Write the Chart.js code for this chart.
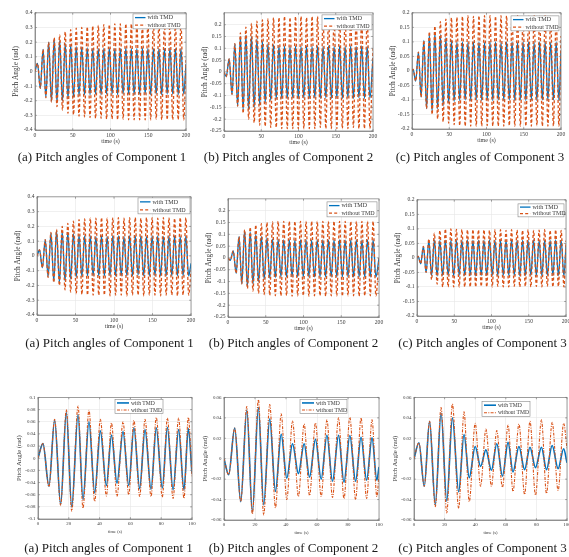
<!DOCTYPE html>
<html>
<head>
<meta charset="utf-8">
<script src="https://cdn.jsdelivr.net/npm/chart.js@4.4.1/dist/chart.umd.min.js"></script>
<style>
html,body{margin:0;padding:0;background:#fff;}
body{position:relative;width:569px;height:557px;overflow:hidden;}
canvas{position:absolute;}
.cap{position:absolute;font-family:"Liberation Serif","Times New Roman",serif;font-size:13px;line-height:16px;color:#1a1a1a;white-space:nowrap;transform:translateX(-50%);}
</style>
</head>
<body>
<script>
// ---------- tick labels ----------
const xTicks200 = [0, 50, 100, 150, 200];
const xTicks100 = [0, 20, 40, 60, 80, 100];
const yTicksA = [-0.4, -0.3, -0.2, -0.1, 0, 0.1, 0.2, 0.3, 0.4];
const yTicksB = [-0.25, -0.2, -0.15, -0.1, -0.05, 0, 0.05, 0.1, 0.15, 0.2];
const yTicksC = [-0.2, -0.15, -0.1, -0.05, 0, 0.05, 0.1, 0.15, 0.2];
const yTicks3a = [-0.1, -0.08, -0.06, -0.04, -0.02, 0, 0.02, 0.04, 0.06, 0.08, 0.1];
const yTicks3bc = [-0.06, -0.04, -0.02, 0, 0.02, 0.04, 0.06];

const seriesNames = ['with TMD', 'without TMD'];
const captions = ['(a) Pitch angles of Component 1', '(b) Pitch angles of Component 2', '(c) Pitch angles of Component 3'];

// ---------- extremum times (s) ----------
const tC1 = [0, 3.3, 7.0, 10.7, 14.4, 18.1, 21.8, 25.4, 29.1, 32.7,
  36.4, 40.0, 43.7, 47.3, 51.0, 54.6, 58.3, 61.9, 65.6, 69.2,
  72.9, 76.5, 80.2, 83.8, 87.5, 91.1, 94.8, 98.4, 102.1, 105.7,
  109.4, 113.0, 116.7, 120.3, 124.0, 127.6, 131.3, 134.9, 138.6, 142.2,
  145.9, 149.5, 153.2, 156.8, 160.5, 164.1, 167.8, 171.4, 175.1, 178.7,
  182.4, 186.0, 189.7, 193.3, 197.0, 200];
const tC2 = [0, 3.0, 6.9, 10.8, 14.6, 18.3, 22.0, 25.7, 29.4, 33.1,
  36.8, 40.5, 44.2, 47.9, 51.6, 55.3, 59.0, 62.7, 66.4, 70.1,
  73.8, 77.5, 81.2, 84.9, 88.6, 92.3, 96.0, 99.7, 103.4, 107.1,
  110.8, 114.5, 118.2, 121.9, 125.6, 129.3, 133.0, 136.7, 140.4, 144.1,
  147.8, 151.5, 155.2, 158.9, 162.6, 166.3, 170.0, 173.7, 177.4, 181.1,
  184.8, 188.5, 192.2, 195.9, 200];
const tC3 = [0, 1.5, 5.0, 8.6, 12.2, 15.9, 19.6, 23.3, 27.0, 30.7,
  34.4, 38.1, 41.8, 45.5, 49.2, 52.9, 56.6, 60.3, 64.0, 67.7,
  71.4, 75.1, 78.8, 82.5, 86.2, 89.9, 93.6, 97.3, 101.0, 104.7,
  108.4, 112.1, 115.8, 119.5, 123.2, 126.9, 130.6, 134.3, 138.0, 141.7,
  145.4, 149.1, 152.8, 156.5, 160.2, 163.9, 167.6, 171.3, 175.0, 178.7,
  182.4, 186.1, 189.8, 193.5, 197.2, 200];
const t3a = [0, 3.2, 7.1, 10.8, 14.7, 18.4, 21.9, 26.0, 29.2, 33.1,
  36.8, 40.5, 44.4, 47.7, 51.3, 55.2, 58.9, 62.3, 66.0, 69.5,
  73.4, 76.8, 80.7, 84.0, 87.7, 91.3, 94.8, 97.6, 100];
const t3b = [0, 3.0, 6.9, 10.8, 14.7, 18.3, 22.2, 25.6, 29.5, 33.2,
  36.9, 40.5, 44.2, 48.0, 51.7, 55.2, 59.0, 62.7, 66.4, 70.0,
  73.9, 77.4, 81.2, 84.9, 88.4, 92.0, 95.5, 98.6, 100];
const t3c = [0, 3.2, 6.7, 10.2, 13.9, 17.7, 21.4, 25.1, 29.2, 32.7,
  36.1, 40.0, 43.5, 47.0, 50.6, 54.1, 57.8, 61.5, 64.7, 68.6,
  72.3, 75.8, 79.4, 83.3, 86.6, 90.3, 94.2, 97.8, 100];

// ---------- pitch angle values (rad) at those times ----------
// Row 1
const w1a = [0, 0.055, -0.115, 0.15, -0.175, 0.2, -0.205, 0.22, -0.21, 0.21,
  -0.2, 0.19, -0.185, 0.18, -0.175, 0.17, -0.165, 0.165, -0.16, 0.16,
  -0.16, 0.155, -0.155, 0.155, -0.16, 0.155, -0.155, 0.16, -0.155, 0.155,
  -0.16, 0.155, -0.155, 0.16, -0.155, 0.155, -0.16, 0.155, -0.155, 0.16,
  -0.155, 0.155, -0.16, 0.155, -0.155, 0.155, -0.16, 0.155, -0.155, 0.16,
  -0.155, 0.155, -0.16, 0.155, -0.155, 0.05];
const wo1a = [0, 0.055, -0.115, 0.15, -0.18, 0.2, -0.21, 0.23, -0.24, 0.25,
  -0.265, 0.27, -0.285, 0.285, -0.295, 0.295, -0.305, 0.3, -0.31, 0.305,
  -0.315, 0.31, -0.32, 0.315, -0.32, 0.32, -0.325, 0.32, -0.325, 0.325,
  -0.33, 0.325, -0.325, 0.325, -0.33, 0.325, -0.33, 0.33, -0.33, 0.325,
  -0.33, 0.33, -0.33, 0.33, -0.325, 0.33, -0.33, 0.33, -0.33, 0.33,
  -0.33, 0.325, -0.33, 0.33, -0.33, 0.08];
const w1b = [0, -0.02, 0.055, -0.095, 0.12, -0.145, 0.15, -0.16, 0.155, -0.16,
  0.15, -0.15, 0.14, -0.14, 0.13, -0.13, 0.12, -0.12, 0.115, -0.115,
  0.11, -0.112, 0.11, -0.112, 0.108, -0.11, 0.11, -0.112, 0.108, -0.11,
  0.11, -0.112, 0.108, -0.11, 0.11, -0.112, 0.108, -0.11, 0.11, -0.112,
  0.108, -0.11, 0.11, -0.112, 0.108, -0.11, 0.11, -0.112, 0.108, -0.11,
  0.11, -0.112, 0.108, -0.11, 0.06];
const wo1b = [0, -0.02, 0.055, -0.095, 0.12, -0.145, 0.165, -0.175, 0.19, -0.2,
  0.205, -0.215, 0.215, -0.225, 0.22, -0.23, 0.225, -0.235, 0.23, -0.235,
  0.23, -0.24, 0.235, -0.24, 0.23, -0.24, 0.235, -0.24, 0.235, -0.24,
  0.23, -0.24, 0.235, -0.24, 0.235, -0.235, 0.23, -0.24, 0.235, -0.24,
  0.235, -0.24, 0.23, -0.24, 0.235, -0.24, 0.235, -0.235, 0.23, -0.24,
  0.235, -0.24, 0.235, -0.24, 0.1];
const w1c = [0, 0.005, -0.035, 0.065, -0.09, 0.105, -0.13, 0.125, -0.14, 0.13,
  -0.13, 0.125, -0.12, 0.115, -0.11, 0.105, -0.105, 0.1, -0.102, 0.1,
  -0.1, 0.098, -0.102, 0.1, -0.1, 0.1, -0.102, 0.098, -0.1, 0.1,
  -0.102, 0.1, -0.1, 0.098, -0.102, 0.1, -0.1, 0.1, -0.102, 0.098,
  -0.1, 0.1, -0.102, 0.1, -0.1, 0.098, -0.102, 0.1, -0.1, 0.1,
  -0.102, 0.098, -0.1, 0.1, -0.102, 0.07];
const wo1c = [0, 0.005, -0.035, 0.065, -0.09, 0.105, -0.13, 0.135, -0.15, 0.155,
  -0.165, 0.17, -0.175, 0.178, -0.18, 0.183, -0.185, 0.185, -0.188, 0.188,
  -0.19, 0.19, -0.19, 0.188, -0.19, 0.19, -0.19, 0.19, -0.188, 0.19,
  -0.19, 0.188, -0.19, 0.19, -0.19, 0.19, -0.188, 0.19, -0.19, 0.19,
  -0.19, 0.188, -0.19, 0.19, -0.19, 0.19, -0.188, 0.19, -0.19, 0.19,
  -0.19, 0.188, -0.19, 0.19, -0.19, 0.12];
// Row 2
const w2a = [0, 0.04, -0.08, 0.11, -0.14, 0.155, -0.17, 0.17, -0.18, 0.165,
  -0.17, 0.16, -0.155, 0.15, -0.145, 0.14, -0.14, 0.135, -0.135, 0.135,
  -0.135, 0.13, -0.135, 0.135, -0.135, 0.13, -0.135, 0.135, -0.135, 0.135,
  -0.135, 0.13, -0.135, 0.135, -0.135, 0.135, -0.13, 0.135, -0.135, 0.13,
  -0.135, 0.135, -0.135, 0.135, -0.135, 0.13, -0.135, 0.135, -0.135, 0.135,
  -0.135, 0.13, -0.135, 0.135, -0.135, -0.05];
const wo2a = [0, 0.04, -0.08, 0.11, -0.145, 0.16, -0.18, 0.18, -0.2, 0.2,
  -0.23, 0.22, -0.245, 0.235, -0.255, 0.245, -0.26, 0.25, -0.265, 0.255,
  -0.265, 0.255, -0.265, 0.26, -0.265, 0.255, -0.27, 0.26, -0.265, 0.26,
  -0.265, 0.255, -0.27, 0.26, -0.265, 0.26, -0.265, 0.255, -0.27, 0.26,
  -0.265, 0.26, -0.265, 0.255, -0.27, 0.26, -0.265, 0.26, -0.265, 0.255,
  -0.27, 0.26, -0.265, 0.26, -0.265, -0.1];
const w2b = [0, -0.01, 0.03, -0.065, 0.09, -0.11, 0.115, -0.12, 0.11, -0.11,
  0.1, -0.1, 0.09, -0.09, 0.085, -0.085, 0.08, -0.082, 0.078, -0.08,
  0.076, -0.08, 0.076, -0.08, 0.075, -0.08, 0.076, -0.08, 0.076, -0.08,
  0.075, -0.08, 0.076, -0.08, 0.076, -0.08, 0.075, -0.08, 0.076, -0.08,
  0.076, -0.08, 0.075, -0.08, 0.076, -0.08, 0.076, -0.08, 0.075, -0.08,
  0.076, -0.08, 0.076, -0.08, 0.0];
const wo2b = [0, -0.01, 0.03, -0.065, 0.09, -0.11, 0.12, -0.13, 0.13, -0.14,
  0.14, -0.15, 0.145, -0.155, 0.15, -0.158, 0.152, -0.16, 0.155, -0.16,
  0.155, -0.16, 0.155, -0.162, 0.155, -0.16, 0.155, -0.16, 0.155, -0.162,
  0.155, -0.16, 0.155, -0.16, 0.155, -0.162, 0.155, -0.16, 0.155, -0.16,
  0.155, -0.162, 0.155, -0.16, 0.155, -0.16, 0.155, -0.162, 0.155, -0.16,
  0.155, -0.16, 0.155, -0.16, 0.0];
const w2c = [0, 0.005, -0.02, 0.04, -0.05, 0.06, -0.06, 0.062, -0.062, 0.06,
  -0.06, 0.06, -0.06, 0.06, -0.062, 0.06, -0.06, 0.06, -0.06, 0.062,
  -0.06, 0.06, -0.062, 0.06, -0.06, 0.06, -0.06, 0.062, -0.06, 0.06,
  -0.062, 0.06, -0.06, 0.06, -0.06, 0.062, -0.06, 0.06, -0.062, 0.06,
  -0.06, 0.06, -0.06, 0.062, -0.06, 0.06, -0.062, 0.06, -0.06, 0.06,
  -0.06, 0.062, -0.06, 0.06, -0.062, 0.04];
const wo2c = [0, 0.005, -0.02, 0.04, -0.05, 0.065, -0.075, 0.085, -0.09, 0.095,
  -0.1, 0.1, -0.1, 0.1, -0.1, 0.098, -0.1, 0.098, -0.1, 0.097,
  -0.1, 0.098, -0.1, 0.097, -0.098, 0.097, -0.1, 0.095, -0.1, 0.097,
  -0.098, 0.097, -0.1, 0.095, -0.1, 0.097, -0.098, 0.096, -0.1, 0.095,
  -0.098, 0.097, -0.1, 0.095, -0.098, 0.096, -0.1, 0.097, -0.098, 0.095,
  -0.1, 0.097, -0.098, 0.095, -0.1, 0.06];
// Row 3
const w3a = [0, 0.024, -0.046, 0.063, -0.076, 0.075, -0.08, 0.072, -0.068, 0.06,
  -0.057, 0.045, -0.045, 0.038, -0.041, 0.044, -0.045, 0.05, -0.05, 0.047,
  -0.051, 0.05, -0.049, 0.051, -0.052, 0.047, -0.052, 0.049, -0.025];
const wo3a = [0, 0.024, -0.047, 0.064, -0.078, 0.08, -0.087, 0.086, -0.082, 0.079,
  -0.071, 0.064, -0.062, 0.058, -0.063, 0.06, -0.06, 0.062, -0.063, 0.064,
  -0.063, 0.067, -0.064, 0.066, -0.066, 0.066, -0.066, 0.067, -0.03];
const w3b = [0, -0.0156, 0.03, -0.042, 0.0477, -0.052, 0.05, -0.045, 0.039, -0.032,
  0.024, -0.019, 0.0146, -0.0146, 0.0146, -0.018, 0.019, -0.02, 0.023, -0.022,
  0.023, -0.023, 0.0227, -0.022, 0.021, -0.021, 0.0204, -0.021, -0.008];
const wo3b = [0, -0.0156, 0.03, -0.042, 0.051, -0.054, 0.0577, -0.055, 0.053, -0.048,
  0.044, -0.04, 0.037, -0.037, 0.034, -0.036, 0.035, -0.037, 0.038, -0.038,
  0.04, -0.039, 0.0405, -0.04, 0.04, -0.039, 0.038, -0.037, -0.015];
const w3c = [0, 0.0156, -0.027, 0.0366, -0.045, 0.0447, -0.0415, 0.04, -0.0324, 0.0237,
  -0.0185, 0.012, -0.0075, 0.0087, -0.0113, 0.0146, -0.017, 0.016, -0.013, 0.012,
  -0.0107, 0.0113, -0.0087, 0.0113, -0.0107, 0.013, -0.0097, 0.0097, -0.004];
const wo3c = [0, 0.0156, -0.027, 0.0366, -0.047, 0.05, -0.053, 0.0535, -0.0486, 0.046,
  -0.042, 0.0347, -0.027, 0.029, -0.027, 0.0275, -0.028, 0.033, -0.032, 0.034,
  -0.035, 0.0366, -0.0357, 0.038, -0.034, 0.0357, -0.031, 0.0347, 0.01];

// ---------- styling / layout ----------
const BLUE = '#0072BD', RED = '#D95319';
const TXT = '#3a3a3a', GRID = '#e6e6e6', AXC = '#7a7a7a';
const FONT = '"Liberation Serif","Times New Roman",serif';
Chart.defaults.font.family = FONT;

const style12 = {tick: 5.6, xTitle: 6, yTitle: 7.3, xOff: 11, yOff: 19, wBlue: 1.3, wRed: 1.3, dash: [3, 2.2], legFont: 6, legLine: 10.5};
const style3 = {tick: 4.9, xTitle: 4.6, yTitle: 6.6, xOff: 12.5, yOff: 18.5, wBlue: 1.6, wRed: 1.1, dash: [3, 1.3, 1, 1.3], legFont: 5.6, legLine: 12};

const panels = [
  {L: 35, T: 12, R: 186, B: 130, xMax: 200, xT: xTicks200, yMin: -0.4, yMax: 0.4, yT: yTicksA, t: tC1, w: w1a, wo: wo1a, leg: {x: 98, y: 1, w: 53, h: 15}, st: style12},
  {L: 224, T: 12, R: 373, B: 130.5, xMax: 200, xT: xTicks200, yMin: -0.25, yMax: 0.25, yT: yTicksB, t: tC2, w: w1b, wo: wo1b, leg: {x: 98, y: 2, w: 50, h: 15}, st: style12},
  {L: 412, T: 12, R: 561, B: 129, xMax: 200, xT: xTicks200, yMin: -0.2, yMax: 0.2, yT: yTicksC, t: tC3, w: w1c, wo: wo1c, leg: {x: 99, y: 3, w: 48, h: 15}, st: style12},
  {L: 37, T: 196, R: 191, B: 315, xMax: 200, xT: xTicks200, yMin: -0.4, yMax: 0.4, yT: yTicksA, t: tC1, w: w2a, wo: wo2a, leg: {x: 101, y: 1, w: 52, h: 16}, st: style12},
  {L: 228, T: 198, R: 379, B: 316.5, xMax: 200, xT: xTicks200, yMin: -0.25, yMax: 0.25, yT: yTicksB, t: tC2, w: w2b, wo: wo2b, leg: {x: 99, y: 3, w: 50, h: 15}, st: style12},
  {L: 417, T: 199, R: 566, B: 316, xMax: 200, xT: xTicks200, yMin: -0.2, yMax: 0.2, yT: yTicksC, t: tC3, w: w2c, wo: wo2c, leg: {x: 101, y: 4, w: 46, h: 13}, st: style12},
  {L: 38, T: 397, R: 192, B: 519, xMax: 100, xT: xTicks100, yMin: -0.1, yMax: 0.1, yT: yTicks3a, t: t3a, w: w3a, wo: wo3a, leg: {x: 77, y: 2, w: 48, h: 14}, st: style3},
  {L: 224, T: 397, R: 379, B: 520, xMax: 100, xT: xTicks100, yMin: -0.06, yMax: 0.06, yT: yTicks3bc, t: t3b, w: w3b, wo: wo3b, leg: {x: 76, y: 2, w: 47, h: 14}, st: style3},
  {L: 414, T: 397, R: 567, B: 520, xMax: 100, xT: xTicks100, yMin: -0.06, yMax: 0.06, yT: yTicks3bc, t: t3c, w: w3c, wo: wo3c, leg: {x: 68, y: 4, w: 48, h: 15}, st: style3}
];

const capPos = [[102, 157], [288.5, 157], [480, 157], [109.5, 343], [293.5, 343], [482.5, 343], [108.5, 548], [293.5, 548], [482.5, 548]];

const fmt = v => String(Math.round(v * 1e6) / 1e6);

const framePlugin = {
  id: 'boxLegend',
  afterDraw(chart, args, o) {
    const {ctx, chartArea: a} = chart;
    const xs = chart.scales.x, ys = chart.scales.y;
    ctx.save();
    ctx.strokeStyle = AXC; ctx.lineWidth = 0.7; ctx.setLineDash([]);
    ctx.strokeRect(a.left, a.top, a.right - a.left, a.bottom - a.top);
    ctx.beginPath();
    xs.ticks.forEach(tk => {
      const px = xs.getPixelForValue(tk.value);
      ctx.moveTo(px, a.bottom); ctx.lineTo(px, a.bottom - 1.8);
      ctx.moveTo(px, a.top); ctx.lineTo(px, a.top + 1.8);
    });
    ys.ticks.forEach(tk => {
      const py = ys.getPixelForValue(tk.value);
      ctx.moveTo(a.left, py); ctx.lineTo(a.left + 1.8, py);
      ctx.moveTo(a.right, py); ctx.lineTo(a.right - 1.8, py);
    });
    ctx.stroke();
    const x = a.left + o.x, y = a.top + o.y;
    ctx.fillStyle = '#fff'; ctx.fillRect(x, y, o.w, o.h);
    ctx.strokeStyle = '#888'; ctx.lineWidth = 0.6; ctx.strokeRect(x, y, o.w, o.h);
    chart.data.datasets.forEach((ds, i) => {
      const ly = y + o.h * (2 * i + 1) / 4;
      ctx.strokeStyle = ds.borderColor; ctx.lineWidth = ds.borderWidth;
      ctx.setLineDash(ds.borderDash || []);
      ctx.beginPath(); ctx.moveTo(x + 2, ly); ctx.lineTo(x + 2 + o.line, ly); ctx.stroke();
      ctx.setLineDash([]);
      ctx.fillStyle = TXT; ctx.font = o.font + 'px ' + FONT; ctx.textBaseline = 'middle';
      ctx.fillText(ds.label, x + 4 + o.line, ly + 0.3);
    });
    ctx.restore();
  }
};

const padL = 44, padT = 5, padR = 10, axisH = 24;

panels.forEach((p, k) => {
  const st = p.st;
  const cv = document.createElement('canvas');
  const cw = Math.round((p.R - p.L) + padL + padR), ch = Math.round((p.B - p.T) + padT + axisH);
  cv.width = cw; cv.height = ch;
  cv.style.left = (p.L - padL) + 'px'; cv.style.top = (p.T - padT) + 'px';
  document.body.appendChild(cv);
  const xLH = st.xTitle * 1.2, yLH = st.yTitle * 1.2;
  new Chart(cv, {
    type: 'line',
    data: {
      datasets: [
        {label: seriesNames[0], data: p.t.map((x, i) => ({x, y: p.w[i]})), borderColor: BLUE, borderWidth: st.wBlue,
         pointRadius: 0, cubicInterpolationMode: 'monotone', order: 1},
        {label: seriesNames[1], data: p.t.map((x, i) => ({x, y: p.wo[i]})), borderColor: RED, borderWidth: st.wRed,
         borderDash: st.dash, pointRadius: 0, cubicInterpolationMode: 'monotone', order: 0}
      ]
    },
    options: {
      responsive: false, animation: false, events: [],
      layout: {padding: {left: 0, top: padT, right: padR, bottom: 0}},
      plugins: {legend: {display: false}, tooltip: {enabled: false},
        boxLegend: {x: p.leg.x, y: p.leg.y, w: p.leg.w, h: p.leg.h, font: st.legFont, line: st.legLine}},
      scales: {
        x: {type: 'linear', min: 0, max: p.xMax,
          afterBuildTicks: sc => { sc.ticks = p.xT.map(v => ({value: v})); },
          afterFit: sc => { sc.height = axisH; },
          grid: {color: GRID, lineWidth: 0.6, drawTicks: false},
          border: {color: AXC, width: 0.7},
          ticks: {padding: 2, font: {size: st.tick}, color: TXT, maxRotation: 0, autoSkip: false, callback: v => fmt(v)},
          title: {display: true, text: 'time (s)', font: {size: st.xTitle}, color: TXT,
            padding: {top: 0, bottom: axisH - st.xOff - xLH / 2}}},
        y: {type: 'linear', min: p.yMin, max: p.yMax,
          afterBuildTicks: sc => { sc.ticks = p.yT.map(v => ({value: v})); },
          afterFit: sc => { sc.width = padL; },
          grid: {color: GRID, lineWidth: 0.6, drawTicks: false},
          border: {color: AXC, width: 0.7},
          ticks: {padding: 2.5, font: {size: st.tick}, color: TXT, autoSkip: false, callback: v => fmt(v)},
          title: {display: true, text: 'Pitch Angle (rad)', font: {size: st.yTitle}, color: TXT,
            padding: {top: padL - st.yOff - yLH / 2, bottom: 0}}}
      }
    },
    plugins: [framePlugin]
  });
  const cap = document.createElement('div');
  cap.className = 'cap';
  cap.textContent = captions[k % 3];
  cap.style.left = capPos[k][0] + 'px';
  cap.style.top = (capPos[k][1] - 8) + 'px';
  document.body.appendChild(cap);
});
</script>
</body>
</html>
